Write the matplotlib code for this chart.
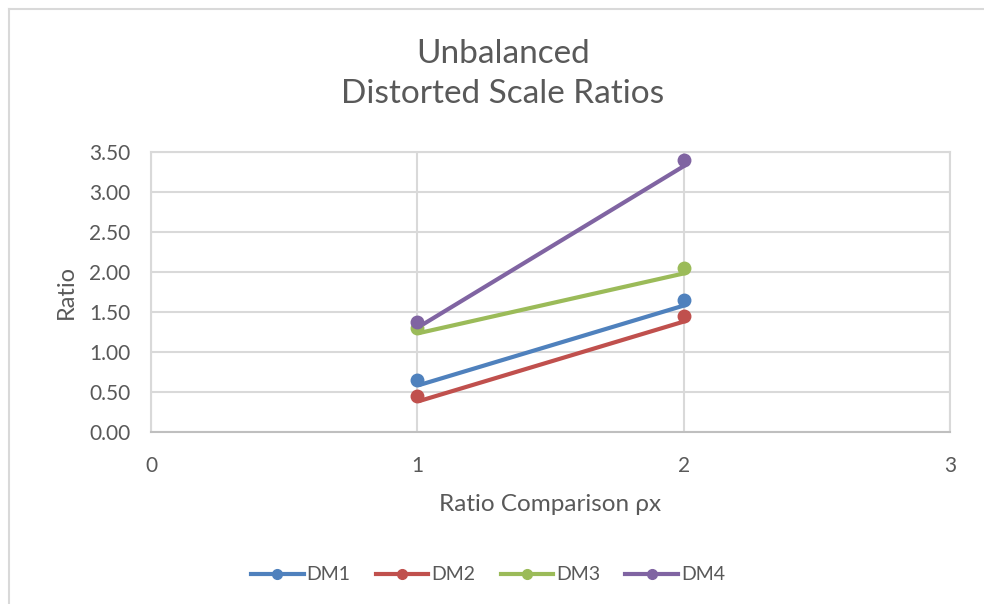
import matplotlib
matplotlib.use("Agg")
import matplotlib.pyplot as plt
import matplotlib.transforms as mtransforms

# data
x_vals = [1, 2]
series_names = ['DM1', 'DM2', 'DM3', 'DM4']
dm1 = [0.65, 1.65]
dm2 = [0.45, 1.45]
dm3 = [1.30, 2.05]
dm4 = [1.38, 3.40]
colors = ['#4F81BD', '#C0504D', '#9BBB59', '#8064A2']
y_ticks = [0, 0.5, 1.0, 1.5, 2.0, 2.5, 3.0, 3.5]
x_ticks = [0, 1, 2, 3]

plt.rcParams['font.family'] = ['Lato', 'DejaVu Sans']
txt_color = '#595959'
grid_color = '#d9d9d9'

fig = plt.figure(figsize=(9.84, 6.04), dpi=100)
ax = fig.add_axes([151/984, 1-432/604, (950-151)/984, (432-152)/604])

# excel draws the line a touch below/right of the markers
line_off = mtransforms.ScaledTranslation(2/100, -5/100, fig.dpi_scale_trans)
for name, vals, c in zip(series_names, [dm1, dm2, dm3, dm4], colors):
    ax.plot(x_vals, vals, color=c, lw=3, solid_capstyle='round',
            transform=ax.transData + line_off, zorder=3)
    ax.plot(x_vals, vals, color=c, lw=0, marker='o', ms=9, zorder=4)
    # legend handle
    ax.plot([], [], color=c, lw=3, marker='o', ms=7, label=name)

ax.set_xlim(0, 3)
ax.set_ylim(0, 3.5)
ax.set_xticks(x_ticks)
ax.set_yticks(y_ticks)
ax.set_yticklabels(['%.2f' % v for v in y_ticks])
ax.grid(True, color=grid_color, lw=1.5, zorder=0)
ax.set_axisbelow(True)
for s in ax.spines.values():
    s.set_color(grid_color)
    s.set_linewidth(1.5)
ax.spines['bottom'].set_color('#bfbfbf')
ax.tick_params(length=0, labelsize=15, colors=txt_color)
ax.tick_params(axis='x', pad=17)
ax.tick_params(axis='y', pad=15)

ax.set_ylabel('Ratio', fontsize=17, color=txt_color, labelpad=9)
ax.set_xlabel('Ratio Comparison ρx', fontsize=17.5, color=txt_color, labelpad=13)

fig.text(0.511, 1-74/604, 'Unbalanced\nDistorted Scale Ratios', ha='center', va='center',
         fontsize=24, color=txt_color, linespacing=1.4)

fig.legend(loc='center', bbox_to_anchor=(488/984, 1-575/604), ncol=4, frameon=False,
           fontsize=14, labelcolor=txt_color, handlelength=2.7, handletextpad=0.15,
           columnspacing=1.3)

# chart border
fig.add_artist(plt.Line2D([9/984, 1], [1-9/604, 1-9/604], color='#d9d9d9', lw=1.5))
fig.add_artist(plt.Line2D([9/984, 9/984], [0, 1-9/604], color='#d9d9d9', lw=1.5))

fig.savefig('out.png', dpi=100, facecolor='white')
